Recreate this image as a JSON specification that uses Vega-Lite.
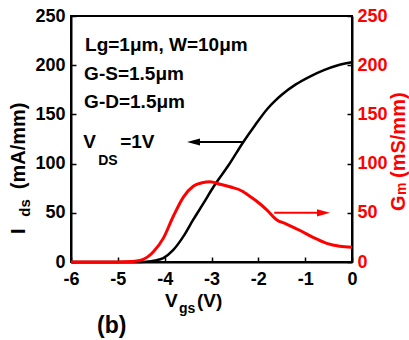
{
  "$schema": "https://vega.github.io/schema/vega-lite/v6.json",
  "width": 281,
  "height": 246,
  "autosize": {"type": "none"},
  "padding": {"left": 71, "top": 16, "right": 57, "bottom": 78},
  "background": "white",
  "config": {
    "view": {"stroke": "black", "strokeWidth": 2},
    "font": "Liberation Sans",
    "axis": {
      "grid": false,
      "labelFont": "Liberation Sans",
      "labelFontWeight": "bold",
      "labelFontSize": 18,
      "labelFlush": false,
      "labelOverlap": false,
      "domainColor": "black",
      "domainWidth": 2,
      "tickColor": "black",
      "tickWidth": 1.5
    },
    "text": {"font": "Liberation Sans", "fontWeight": "bold", "align": "left", "baseline": "alphabetic"}
  },
  "datasets": {
    "ids": [
      {"vgs": -6, "ids": 0}, {"vgs": -5, "ids": 0}, {"vgs": -4.6, "ids": 0},
      {"vgs": -4.4, "ids": 0.3}, {"vgs": -4.2, "ids": 1.5}, {"vgs": -4.03, "ids": 4},
      {"vgs": -3.82, "ids": 12}, {"vgs": -3.6, "ids": 26}, {"vgs": -3.39, "ids": 43},
      {"vgs": -3.18, "ids": 59}, {"vgs": -2.95, "ids": 77}, {"vgs": -2.64, "ids": 98},
      {"vgs": -2.32, "ids": 122}, {"vgs": -2.07, "ids": 139}, {"vgs": -1.8, "ids": 156},
      {"vgs": -1.65, "ids": 163.5}, {"vgs": -1.5, "ids": 170}, {"vgs": -1.2, "ids": 180.5},
      {"vgs": -0.9, "ids": 188.5}, {"vgs": -0.6, "ids": 195}, {"vgs": -0.3, "ids": 200},
      {"vgs": 0, "ids": 203}
    ],
    "gm": [
      {"vgs": -6, "gm": 0}, {"vgs": -5, "gm": 0}, {"vgs": -4.7, "gm": 0.5},
      {"vgs": -4.53, "gm": 1.5}, {"vgs": -4.38, "gm": 4.7}, {"vgs": -4.24, "gm": 10.5},
      {"vgs": -4.03, "gm": 24}, {"vgs": -3.82, "gm": 46}, {"vgs": -3.6, "gm": 66},
      {"vgs": -3.39, "gm": 77}, {"vgs": -3.2, "gm": 80.5}, {"vgs": -3.03, "gm": 81.5},
      {"vgs": -2.82, "gm": 79}, {"vgs": -2.61, "gm": 76.5}, {"vgs": -2.32, "gm": 71.5},
      {"vgs": -2.22, "gm": 68}, {"vgs": -2.04, "gm": 62}, {"vgs": -1.82, "gm": 53},
      {"vgs": -1.61, "gm": 43}, {"vgs": -1.4, "gm": 38.6}, {"vgs": -1.11, "gm": 32},
      {"vgs": -0.83, "gm": 25}, {"vgs": -0.54, "gm": 19}, {"vgs": -0.26, "gm": 16},
      {"vgs": 0, "gm": 15}
    ],
    "one": [{"k": 1}]
  },
  "layer": [
    {
      "layer": [
        {
          "data": {"name": "ids"},
          "mark": {"type": "line", "color": "black", "strokeWidth": 2.5, "interpolate": "monotone"},
          "encoding": {
            "x": {
              "field": "vgs", "type": "quantitative",
              "scale": {"domain": [-6, 0], "nice": false, "zero": false},
              "axis": {
                "title": null,
                "values": [-6, -5.5, -5, -4.5, -4, -3.5, -3, -2.5, -2, -1.5, -1, -0.5, 0],
                "labelExpr": "datum.value % 1 === 0 ? toString(datum.value) : ''",
                "tickSize": {"condition": {"test": "datum.value % 1 === 0", "value": -5}, "value": -3},
                "labelPadding": 13,
                "labelColor": "black"
              }
            },
            "y": {
              "field": "ids", "type": "quantitative",
              "scale": {"domain": [0, 250], "nice": false},
              "axis": {
                "title": null,
                "orient": "left",
                "values": [0, 25, 50, 75, 100, 125, 150, 175, 200, 225, 250],
                "labelExpr": "datum.value % 50 === 0 ? toString(datum.value) : ''",
                "tickSize": {"condition": {"test": "datum.value % 50 === 0", "value": -5}, "value": -3},
                "labelPadding": 11,
                "labelColor": "black"
              }
            }
          }
        },
        {
          "data": {"name": "one"},
          "mark": {"type": "rule", "color": "black", "strokeWidth": 2},
          "encoding": {
            "x": {"datum": -3.38, "type": "quantitative", "scale": {"domain": [-6, 0], "nice": false, "zero": false}},
            "x2": {"datum": -2.31},
            "y": {"datum": 122, "type": "quantitative", "scale": {"domain": [0, 250], "nice": false}}
          }
        },
        {
          "data": {"name": "one"},
          "mark": {"type": "point", "filled": true, "opacity": 1, "color": "black", "shape": "M1,-0.55L-1,0L1,0.55Z", "size": 169},
          "encoding": {
            "x": {"datum": -3.384, "type": "quantitative", "scale": {"domain": [-6, 0], "nice": false, "zero": false}},
            "y": {"datum": 122, "type": "quantitative", "scale": {"domain": [0, 250], "nice": false}}
          }
        },
        {
          "data": {"name": "one"},
          "mark": {"type": "text", "text": "Lg=1μm, W=10μm", "fontSize": 19, "color": "black"},
          "encoding": {
            "x": {"datum": -5.70, "type": "quantitative", "scale": {"domain": [-6, 0], "nice": false, "zero": false}},
            "y": {"datum": 214, "type": "quantitative", "scale": {"domain": [0, 250], "nice": false}}
          }
        },
        {
          "data": {"name": "one"},
          "mark": {"type": "text", "text": "G-S=1.5μm", "fontSize": 19, "color": "black"},
          "encoding": {
            "x": {"datum": -5.72, "type": "quantitative", "scale": {"domain": [-6, 0], "nice": false, "zero": false}},
            "y": {"datum": 185, "type": "quantitative", "scale": {"domain": [0, 250], "nice": false}}
          }
        },
        {
          "data": {"name": "one"},
          "mark": {"type": "text", "text": "G-D=1.5μm", "fontSize": 19, "color": "black"},
          "encoding": {
            "x": {"datum": -5.72, "type": "quantitative", "scale": {"domain": [-6, 0], "nice": false, "zero": false}},
            "y": {"datum": 157, "type": "quantitative", "scale": {"domain": [0, 250], "nice": false}}
          }
        },
        {
          "data": {"name": "one"},
          "mark": {"type": "text", "text": "V", "fontSize": 19, "color": "black"},
          "encoding": {
            "x": {"datum": -5.74, "type": "quantitative", "scale": {"domain": [-6, 0], "nice": false, "zero": false}},
            "y": {"datum": 116, "type": "quantitative", "scale": {"domain": [0, 250], "nice": false}}
          }
        },
        {
          "data": {"name": "one"},
          "mark": {"type": "text", "text": "DS", "fontSize": 14, "color": "black"},
          "encoding": {
            "x": {"datum": -5.42, "type": "quantitative", "scale": {"domain": [-6, 0], "nice": false, "zero": false}},
            "y": {"datum": 98.5, "type": "quantitative", "scale": {"domain": [0, 250], "nice": false}}
          }
        },
        {
          "data": {"name": "one"},
          "mark": {"type": "text", "text": "=1V", "fontSize": 19, "color": "black"},
          "encoding": {
            "x": {"datum": -4.95, "type": "quantitative", "scale": {"domain": [-6, 0], "nice": false, "zero": false}},
            "y": {"datum": 116, "type": "quantitative", "scale": {"domain": [0, 250], "nice": false}}
          }
        },
        {
          "data": {"name": "one"},
          "mark": {"type": "text", "text": "V", "fontSize": 19, "color": "black"},
          "encoding": {
            "x": {"datum": -3.993, "type": "quantitative", "scale": {"domain": [-6, 0], "nice": false, "zero": false}},
            "y": {"datum": -45.7, "type": "quantitative", "scale": {"domain": [0, 250], "nice": false}}
          }
        },
        {
          "data": {"name": "one"},
          "mark": {"type": "text", "text": "gs", "fontSize": 14, "color": "black"},
          "encoding": {
            "x": {"datum": -3.694, "type": "quantitative", "scale": {"domain": [-6, 0], "nice": false, "zero": false}},
            "y": {"datum": -51.8, "type": "quantitative", "scale": {"domain": [0, 250], "nice": false}}
          }
        },
        {
          "data": {"name": "one"},
          "mark": {"type": "text", "text": "(V)", "fontSize": 19, "color": "black"},
          "encoding": {
            "x": {"datum": -3.31, "type": "quantitative", "scale": {"domain": [-6, 0], "nice": false, "zero": false}},
            "y": {"datum": -45.7, "type": "quantitative", "scale": {"domain": [0, 250], "nice": false}}
          }
        },
        {
          "data": {"name": "one"},
          "mark": {"type": "text", "text": "(b)", "fontSize": 23, "color": "black"},
          "encoding": {
            "x": {"datum": -5.445, "type": "quantitative", "scale": {"domain": [-6, 0], "nice": false, "zero": false}},
            "y": {"datum": -72.2, "type": "quantitative", "scale": {"domain": [0, 250], "nice": false}}
          }
        },
        {
          "data": {"name": "one"},
          "mark": {"type": "text", "text": "I", "fontSize": 20, "angle": 270, "color": "black"},
          "encoding": {
            "x": {"datum": -6.982, "type": "quantitative", "scale": {"domain": [-6, 0], "nice": false, "zero": false}},
            "y": {"datum": 28.5, "type": "quantitative", "scale": {"domain": [0, 250], "nice": false}}
          }
        },
        {
          "data": {"name": "one"},
          "mark": {"type": "text", "text": "ds", "fontSize": 15, "angle": 270, "color": "black"},
          "encoding": {
            "x": {"datum": -6.875, "type": "quantitative", "scale": {"domain": [-6, 0], "nice": false, "zero": false}},
            "y": {"datum": 46, "type": "quantitative", "scale": {"domain": [0, 250], "nice": false}}
          }
        },
        {
          "data": {"name": "one"},
          "mark": {"type": "text", "text": "(mA/mm)", "fontSize": 20, "angle": 270, "color": "black"},
          "encoding": {
            "x": {"datum": -6.982, "type": "quantitative", "scale": {"domain": [-6, 0], "nice": false, "zero": false}},
            "y": {"datum": 74, "type": "quantitative", "scale": {"domain": [0, 250], "nice": false}}
          }
        }
      ]
    },
    {
      "layer": [
        {
          "data": {"name": "gm"},
          "mark": {"type": "line", "color": "#ff0000", "strokeWidth": 3, "interpolate": "monotone"},
          "encoding": {
            "x": {"field": "vgs", "type": "quantitative", "scale": {"domain": [-6, 0], "nice": false, "zero": false}},
            "y": {
              "field": "gm", "type": "quantitative",
              "scale": {"domain": [0, 250], "nice": false},
              "axis": {
                "title": null,
                "orient": "right",
                "values": [0, 25, 50, 75, 100, 125, 150, 175, 200, 225, 250],
                "labelExpr": "datum.value % 50 === 0 ? toString(datum.value) : ''",
                "tickSize": {"condition": {"test": "datum.value % 50 === 0", "value": -5}, "value": -3},
                "labelPadding": 10,
                "labelColor": "#ff0000"
              }
            }
          }
        },
        {
          "data": {"name": "one"},
          "mark": {"type": "rule", "color": "#ff0000", "strokeWidth": 2},
          "encoding": {
            "x": {"datum": -1.66, "type": "quantitative", "scale": {"domain": [-6, 0], "nice": false, "zero": false}},
            "x2": {"datum": -0.61},
            "y": {"datum": 50, "type": "quantitative", "scale": {"domain": [0, 250], "nice": false}}
          }
        },
        {
          "data": {"name": "one"},
          "mark": {"type": "point", "filled": true, "opacity": 1, "color": "#ff0000", "shape": "M-1,-0.55L1,0L-1,0.55Z", "size": 169},
          "encoding": {
            "x": {"datum": -0.608, "type": "quantitative", "scale": {"domain": [-6, 0], "nice": false, "zero": false}},
            "y": {"datum": 50, "type": "quantitative", "scale": {"domain": [0, 250], "nice": false}}
          }
        },
        {
          "data": {"name": "one"},
          "mark": {"type": "text", "text": "G", "fontSize": 20, "angle": 270, "color": "#ff0000"},
          "encoding": {
            "x": {"datum": 1.132, "type": "quantitative", "scale": {"domain": [-6, 0], "nice": false, "zero": false}},
            "y": {"datum": 51.8, "type": "quantitative", "scale": {"domain": [0, 250], "nice": false}}
          }
        },
        {
          "data": {"name": "one"},
          "mark": {"type": "text", "text": "m", "fontSize": 14, "angle": 270, "color": "#ff0000"},
          "encoding": {
            "x": {"datum": 1.16, "type": "quantitative", "scale": {"domain": [-6, 0], "nice": false, "zero": false}},
            "y": {"datum": 68.1, "type": "quantitative", "scale": {"domain": [0, 250], "nice": false}}
          }
        },
        {
          "data": {"name": "one"},
          "mark": {"type": "text", "text": "(mS/mm)", "fontSize": 20, "angle": 270, "color": "#ff0000"},
          "encoding": {
            "x": {"datum": 1.132, "type": "quantitative", "scale": {"domain": [-6, 0], "nice": false, "zero": false}},
            "y": {"datum": 85.4, "type": "quantitative", "scale": {"domain": [0, 250], "nice": false}}
          }
        }
      ]
    }
  ],
  "resolve": {"scale": {"y": "independent"}}
}
